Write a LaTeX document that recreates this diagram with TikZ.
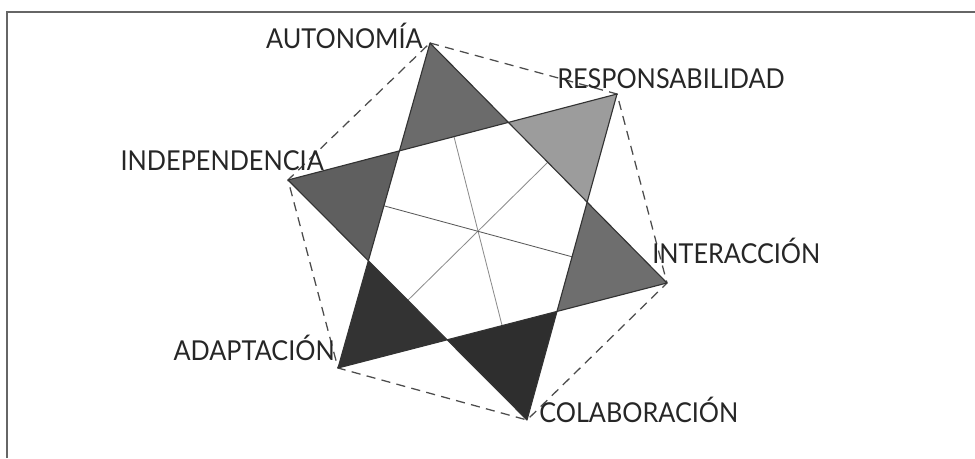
\documentclass[tikz,border=0pt]{standalone}
\usepackage{fontspec}
\setmainfont{Lato}[FakeStretch=0.92]
\usetikzlibrary{calc}
\definecolor{tipA}{HTML}{6B6B6B}
\definecolor{tipR}{HTML}{9C9C9C}
\definecolor{tipI}{HTML}{6E6E6E}
\definecolor{tipC}{HTML}{2E2E2E}
\definecolor{tipD}{HTML}{333333}
\definecolor{tipN}{HTML}{5F5F5F}
\tikzset{
  lbl/.style={inner sep=0pt, font=\fontsize{19.5}{20}\selectfont, text=black!85},
  hexline/.style={draw=black!70, line width=0.9pt, dash pattern=on 6.5pt off 4.5pt},
  tri/.style={draw=black!80, line width=0.8pt, line join=round},
  axis/.style={draw=black!45, line width=0.6pt},
  frame/.style={draw=black!60, line width=1pt}
}
\begin{document}
\begin{tikzpicture}
    \def\x{0.025}
    \def\y{-0.025}
    \useasboundingbox (0,0) rectangle (975*\x, 458*\y);
    \coordinate (aut) at (430*\x, 43*\y);
    \coordinate (res) at (617*\x, 94*\y);
    \coordinate (int) at (667*\x, 283*\y);
    \coordinate (col) at (527*\x, 420*\y);
    \coordinate (ada) at (338*\x, 368*\y);
    \coordinate (ind) at (288*\x, 180*\y);
    \coordinate (P1) at (intersection of ind--res and aut--ada);
    \coordinate (P2) at (intersection of ind--res and aut--int);
    \coordinate (P3) at (intersection of res--col and aut--int);
    \coordinate (P4) at (intersection of res--col and ada--int);
    \coordinate (P5) at (intersection of ind--col and ada--int);
    \coordinate (P6) at (intersection of ind--col and aut--ada);
    \coordinate (F0) at (7*\x, 458*\y);
    \coordinate (F1) at (7*\x, 12*\y);
    \coordinate (F2) at (975*\x, 12*\y);
    \draw[frame] (F0) -- (F1) -- (F2);
    \draw[hexline] (aut) -- (res) -- (int) -- (col) -- (ada) -- (ind) -- cycle;
    \fill[tipA] (aut) -- (P2) -- (P1) -- cycle;
    \fill[tipR] (res) -- (P3) -- (P2) -- cycle;
    \fill[tipI] (int) -- (P4) -- (P3) -- cycle;
    \fill[tipC] (col) -- (P5) -- (P4) -- cycle;
    \fill[tipD] (ada) -- (P6) -- (P5) -- cycle;
    \fill[tipN] (ind) -- (P1) -- (P6) -- cycle;
    \draw[axis] ($(P1)!0.5!(P2)$) -- ($(P4)!0.5!(P5)$);
    \draw[axis] ($(P2)!0.5!(P3)$) -- ($(P5)!0.5!(P6)$);
    \draw[axis, draw=black!65] ($(P6)!0.5!(P1)$) -- ($(P3)!0.5!(P4)$);
    \draw[tri] (aut) -- (int) -- (ada) -- cycle;
    \draw[tri] (res) -- (col) -- (ind) -- cycle;
    \node[lbl, anchor=base east] (autlbl) at (423*\x, 48*\y) {AUTONOMÍA};
    \node[lbl, anchor=base west] (reslbl) at (557*\x, 88*\y) {RESPONSABILIDAD};
    \node[lbl, anchor=base east] (indlbl) at (324*\x, 170*\y) {INDEPENDENCIA};
    \node[lbl, anchor=base west] (intlbl) at (652*\x, 263*\y) {INTERACCIÓN};
    \node[lbl, anchor=base east] (adalbl) at (335*\x, 360*\y) {ADAPTACIÓN};
    \node[lbl, anchor=base west] (collbl) at (539*\x, 422*\y) {COLABORACIÓN};
  \end{tikzpicture}
\end{document}
